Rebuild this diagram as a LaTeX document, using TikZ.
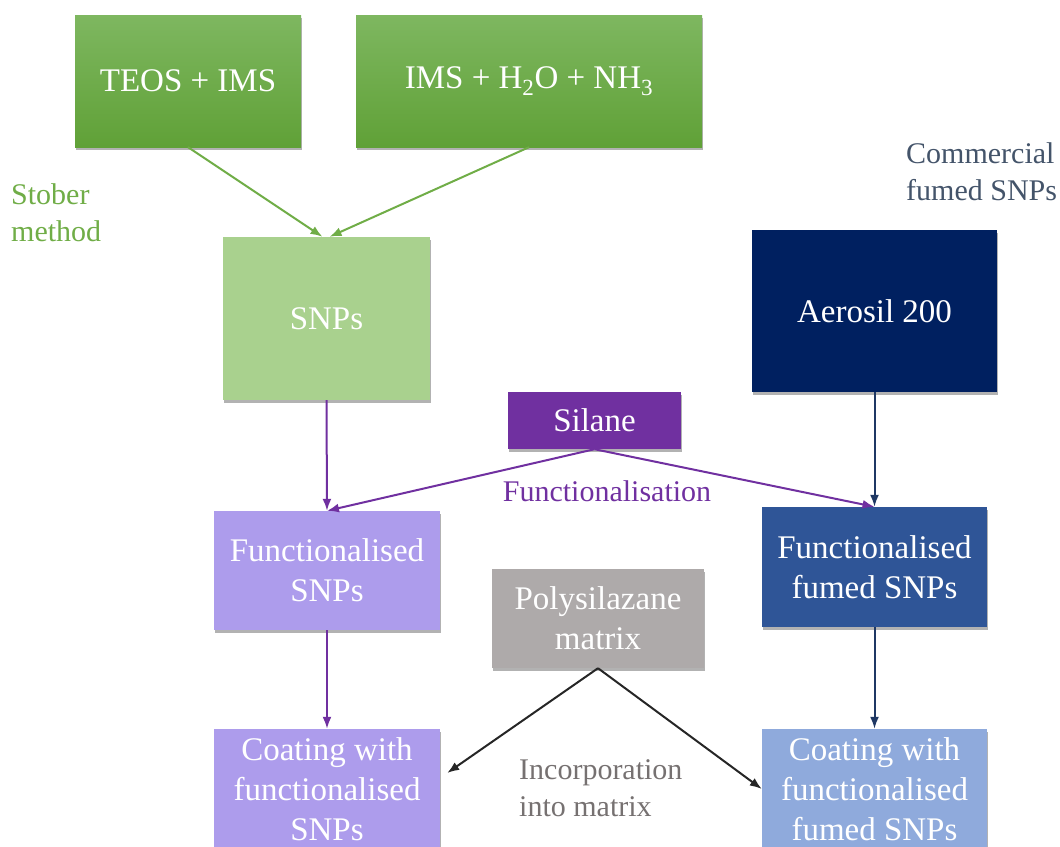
\documentclass[tikz,border=0pt]{standalone}
\usepackage{fontspec}
\setmainfont{Liberation Serif}
\usetikzlibrary{arrows.meta,shadows}

\definecolor{leafgreen}{RGB}{112,173,71}
\definecolor{leaftop}{RGB}{126,183,96}
\definecolor{leafbottom}{RGB}{96,161,55}
\definecolor{palegreen}{RGB}{169,209,142}
\definecolor{navy}{RGB}{0,32,96}
\definecolor{navyline}{RGB}{31,56,100}
\definecolor{silanepurple}{RGB}{112,48,160}
\definecolor{lavender}{RGB}{173,156,236}
\definecolor{fumedblue}{RGB}{47,85,151}
\definecolor{paleblue}{RGB}{143,170,220}
\definecolor{matrixgray}{RGB}{174,170,170}
\definecolor{slate}{RGB}{68,84,106}
\definecolor{textgray}{RGB}{118,113,113}
\definecolor{darkline}{RGB}{38,38,38}

\tikzset{
  box/.style={rectangle, inner sep=2pt, text=white, align=center,
    font=\fontsize{33}{40}\selectfont,
    drop shadow={shadow xshift=1pt, shadow yshift=-2.5pt, opacity=0.3, fill=black}},
  sidelabel/.style={inner sep=0pt, align=left, font=\fontsize{30}{37}\selectfont},
  flow/.style={line width=2pt, -{Latex[length=12pt,width=9pt]}}
}

\begin{document}
\begin{tikzpicture}[x=1pt, y=-1pt]
  \useasboundingbox (0,0) rectangle (1060,846);

  \node[box, top color=leaftop, bottom color=leafbottom, minimum width=226pt, minimum height=132pt] (teos) at (188,81) {TEOS + IMS};
  \node[box, top color=leaftop, bottom color=leafbottom, minimum width=346pt, minimum height=132pt] (ims) at (529,81) {IMS + H\textsubscript{2}O + NH\textsubscript{3}};

  \node[box, fill=palegreen, minimum width=207pt, minimum height=163pt] (snps) at (326.5,318.5) {SNPs};
  \node[box, fill=navy, minimum width=245pt, minimum height=162pt] (aerosil) at (874.5,311) {Aerosil 200};
  \node[box, fill=silanepurple, minimum width=173pt, minimum height=57pt] (silane) at (594.5,420.5) {Silane};

  \node[box, fill=lavender, minimum width=226pt, minimum height=119pt] (fsnps) at (327,570.5) {Functionalised\\SNPs};
  \node[box, fill=fumedblue, minimum width=225pt, minimum height=120pt] (ffumed) at (874.5,567) {Functionalised\\fumed SNPs};
  \node[box, fill=matrixgray, minimum width=212pt, minimum height=99pt] (poly) at (598,618.5) {Polysilazane\\matrix};

  \node[box, fill=lavender, minimum width=226pt, minimum height=120pt] (coat1) at (327,789) {Coating with\\functionalised\\SNPs};
  \node[box, fill=paleblue, minimum width=225pt, minimum height=120pt] (coat2) at (874.5,789) {Coating with\\functionalised\\fumed SNPs};

  \node[sidelabel, text=leafgreen, anchor=west] (stober) at (11,213) {Stober\\method};
  \node[sidelabel, text=slate, anchor=west] (commercial) at (906,172) {Commercial\\fumed SNPs};
  \node[sidelabel, text=silanepurple] (funclabel) at (607,491) {Functionalisation};
  \node[sidelabel, text=textgray, anchor=west] (incorp) at (519,788) {Incorporation\\into matrix};

  \draw[flow, leafgreen] (teos.south) -- ([xshift=-4pt]snps.north);
  \draw[flow, leafgreen] (ims.south) -- ([xshift=3pt]snps.north);

  \draw[flow, silanepurple] (snps.south) -- (fsnps.north);
  \draw[flow, silanepurple] (silane.south) -- (fsnps.north);
  \draw[flow, silanepurple] (silane.south) -- (ffumed.north);
  \draw[flow, silanepurple] (fsnps.south) -- (coat1.north);

  \draw[flow, navyline] (aerosil.south) -- (ffumed.north);
  \draw[flow, navyline] (ffumed.south) -- (coat2.north);

  \draw[flow, darkline] (poly.south) -- ([xshift=7pt,yshift=16pt]coat1.east);
  \draw[flow, darkline] (poly.south) -- (coat2.west);
\end{tikzpicture}
\end{document}
